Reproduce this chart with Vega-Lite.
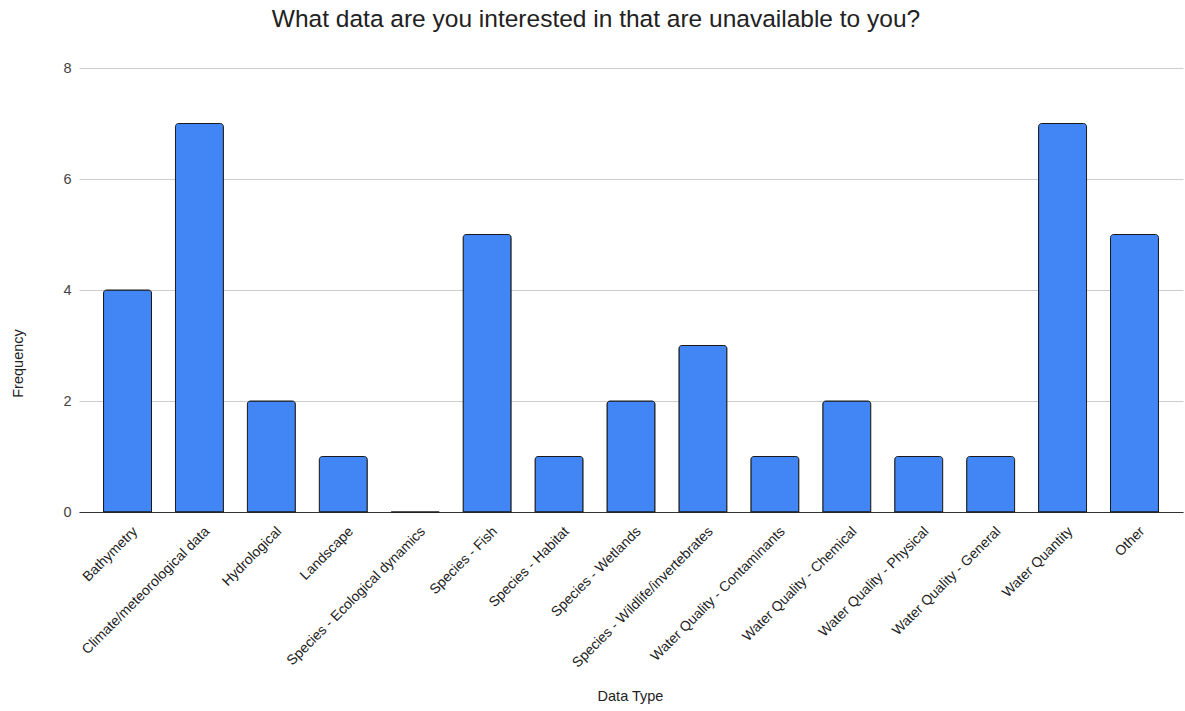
{
  "$schema": "https://vega.github.io/schema/vega-lite/v6.json",
  "width": 1104,
  "height": 444,
  "autosize": "none",
  "padding": {"left": 79, "top": 68, "right": 2, "bottom": 199},
  "background": "#ffffff",
  "config": {
    "font": "Liberation Sans",
    "view": {"stroke": null}
  },
  "title": {
    "text": "What data are you interested in that are unavailable to you?",
    "fontSize": 24.5,
    "fontWeight": "normal",
    "color": "#222222",
    "anchor": "middle",
    "dx": -35,
    "offset": 28
  },
  "data": {
    "values": [
      {"type": "Bathymetry", "count": 4},
      {"type": "Climate/meteorological data", "count": 7},
      {"type": "Hydrological", "count": 2},
      {"type": "Landscape", "count": 1},
      {"type": "Species - Ecological dynamics", "count": 0},
      {"type": "Species - Fish", "count": 5},
      {"type": "Species - Habitat", "count": 1},
      {"type": "Species - Wetlands", "count": 2},
      {"type": "Species - Wildlife/invertebrates", "count": 3},
      {"type": "Water Quality - Contaminants", "count": 1},
      {"type": "Water Quality - Chemical", "count": 2},
      {"type": "Water Quality - Physical", "count": 1},
      {"type": "Water Quality - General", "count": 1},
      {"type": "Water Quantity", "count": 7},
      {"type": "Other", "count": 5}
    ]
  },
  "mark": {
    "type": "bar",
    "fill": "#4285F4",
    "stroke": "#1a1a1a",
    "strokeWidth": 1,
    "cornerRadiusTopLeft": 3,
    "cornerRadiusTopRight": 3
  },
  "encoding": {
    "x": {
      "field": "type",
      "type": "nominal",
      "sort": null,
      "scale": {"paddingInner": 0.333, "paddingOuter": 0.341},
      "axis": {
        "title": "Data Type",
        "titleFontSize": 14.5,
        "titleFontWeight": "normal",
        "titleColor": "#222222",
        "titleX": 551,
        "titleY": 184,
        "titleBaseline": "middle",
        "labelAngle": -45,
        "labelFontSize": 14,
        "labelColor": "#222222",
        "labelPadding": 12,
        "labelOffset": 3,
        "labelLimit": 400,
        "ticks": false,
        "domainColor": "#333333",
        "domainWidth": 1
      }
    },
    "y": {
      "field": "count",
      "type": "quantitative",
      "scale": {"domain": [0, 8]},
      "axis": {
        "title": "Frequency",
        "titleFontSize": 14.5,
        "titleFontWeight": "normal",
        "titleColor": "#222222",
        "titleX": -61,
        "titleY": 295,
        "titleBaseline": "middle",
        "values": [0, 2, 4, 6, 8],
        "labelFontSize": 14.5,
        "labelColor": "#444444",
        "labelPadding": 8,
        "ticks": false,
        "domain": false,
        "gridColor": "#cccccc",
        "gridWidth": 1
      }
    }
  }
}
